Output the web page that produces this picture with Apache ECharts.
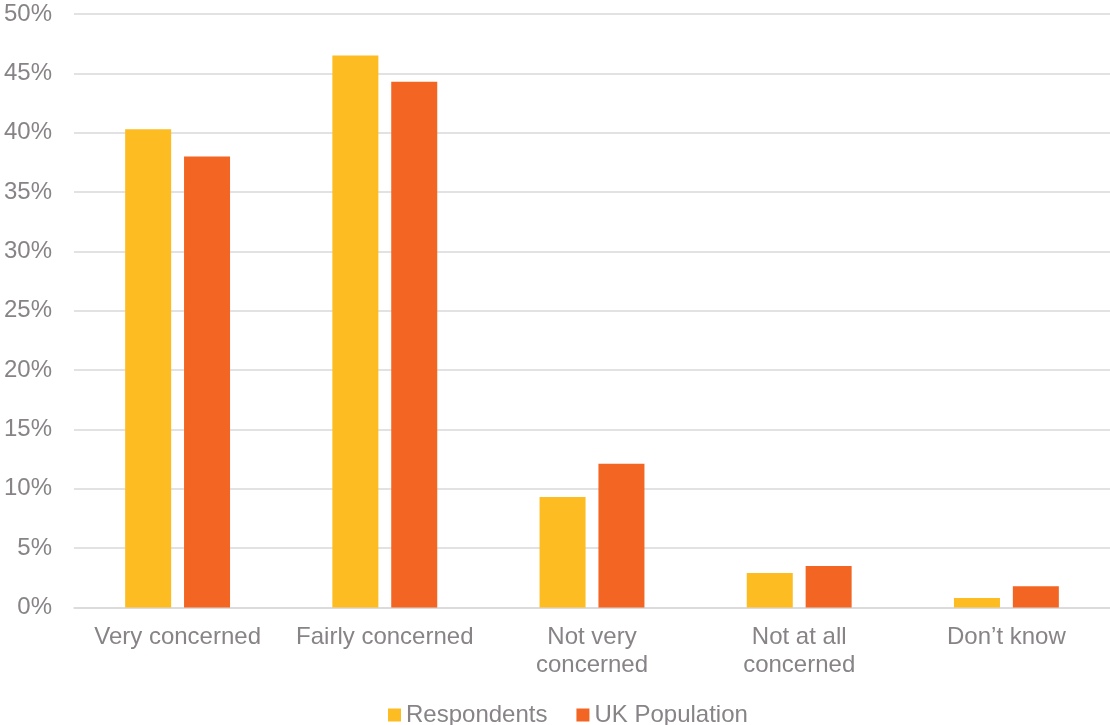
<!DOCTYPE html>
<html>
<head>
<meta charset="utf-8">
<script src="https://cdn.jsdelivr.net/npm/echarts@6/dist/echarts.min.js"></script>
<style>
  html, body { margin: 0; padding: 0; background: #ffffff; }
  #chart { width: 1110px; height: 725px; }
</style>
</head>
<body>
<div id="chart"></div>
<script>
// Level of concern: survey respondents vs UK population (percent)
const categories = ['Very concerned', 'Fairly concerned', 'Not very\nconcerned', 'Not at all\nconcerned', 'Don\u2019t know'];
const respondents = [40.3, 46.5, 9.3, 2.9, 0.8];
const ukPopulation = [38.0, 44.3, 12.1, 3.5, 1.8];
const yTicks = { min: 0, max: 50, step: 5 };

const textGrey = '#878387';
const font = 'Liberation Sans, Arial, sans-serif';

const chart = echarts.init(document.getElementById('chart'), null, { renderer: 'canvas' });
chart.setOption({
  animation: false,
  backgroundColor: '#ffffff',
  grid: { left: 74, right: 0, top: 14, bottom: 117.5, containLabel: false },
  legend: {
    left: 388,
    top: 703,
    padding: 0,
    itemWidth: 13,
    itemHeight: 13,
    itemGap: 29,
    icon: 'rect',
    textStyle: { color: textGrey, fontSize: 24, fontFamily: font, lineHeight: 24, padding: [0, 0, 0, 0] },
    data: ['Respondents', 'UK Population']
  },
  xAxis: {
    type: 'category',
    data: categories,
    axisLine: { show: true, lineStyle: { color: '#d9d9d9', width: 1.5 } },
    axisTick: { show: false },
    axisLabel: { color: textGrey, fontSize: 24, fontFamily: font, lineHeight: 28, margin: 16, interval: 0 }
  },
  yAxis: {
    type: 'value',
    min: yTicks.min,
    max: yTicks.max,
    interval: yTicks.step,
    axisLine: { show: false },
    axisTick: { show: false },
    axisLabel: { color: textGrey, fontSize: 24, fontFamily: font, margin: 22, formatter: '{value}%' },
    splitLine: { lineStyle: { color: '#d9d9d9', width: 1.5 } }
  },
  series: [
    {
      name: 'Respondents',
      type: 'bar',
      data: respondents,
      barWidth: 46,
      barGap: '28%',
      itemStyle: { color: '#fdbc22' }
    },
    {
      name: 'UK Population',
      type: 'bar',
      data: ukPopulation,
      barWidth: 46,
      itemStyle: { color: '#f26522' }
    }
  ]
});
</script>
</body>
</html>
